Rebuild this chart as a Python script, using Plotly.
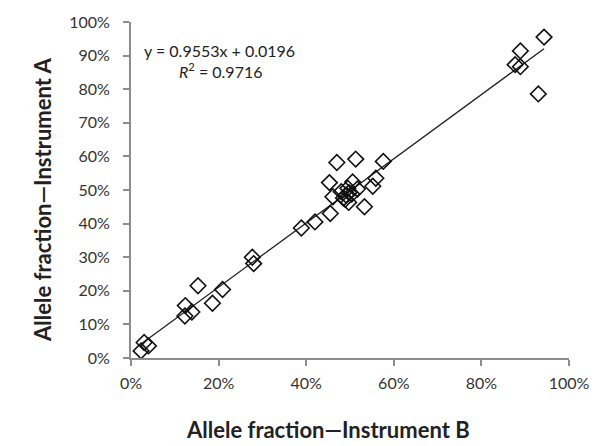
import plotly.graph_objects as go

instrument_b = [0.023, 0.030, 0.040, 0.124, 0.123, 0.139, 0.153, 0.186, 0.209, 0.277, 0.280,
                0.389, 0.420, 0.455, 0.453, 0.470, 0.513, 0.576, 0.559, 0.552, 0.533, 0.506,
                0.517, 0.461, 0.480, 0.485, 0.491, 0.497, 0.498, 0.504, 0.489, 0.495,
                0.877, 0.889, 0.889, 0.930, 0.943]
instrument_a = [0.021, 0.046, 0.036, 0.156, 0.125, 0.137, 0.215, 0.163, 0.204, 0.300, 0.281,
                0.387, 0.405, 0.430, 0.522, 0.582, 0.592, 0.585, 0.535, 0.511, 0.450, 0.524,
                0.503, 0.480, 0.495, 0.476, 0.485, 0.463, 0.492, 0.488, 0.472, 0.505,
                0.873, 0.867, 0.914, 0.786, 0.955]
slope = 0.9553
intercept = 0.0196
r_squared = 0.9716
tick_vals_x = [0, 0.2, 0.4, 0.6, 0.8, 1.0]
tick_vals_y = [0, 0.1, 0.2, 0.3, 0.4, 0.5, 0.6, 0.7, 0.8, 0.9, 1.0]

font = "Lato, 'Open Sans', sans-serif"

x0, x1 = min(instrument_b), max(instrument_b)
fig = go.Figure()
fig.add_trace(go.Scatter(x=[x0, x1], y=[slope * x0 + intercept, slope * x1 + intercept],
                         mode="lines", line=dict(color="#222222", width=1.3), hoverinfo="skip"))
fig.add_trace(go.Scatter(x=instrument_b, y=instrument_a, mode="markers",
                         marker=dict(symbol="diamond-open", size=12, color="#111111",
                                     line=dict(width=1.6, color="#111111"))))

axis_common = dict(showgrid=False, zeroline=False, showline=True, linecolor="#8c8c8c", linewidth=2,
                   ticks="outside", tickcolor="#8c8c8c", ticklen=6, tickwidth=1.5,
                   tickformat=".0%", tickfont=dict(family=font, size=16, color="#333333"))
fig.update_xaxes(range=[0, 1], tickvals=tick_vals_x, ticklabelstandoff=4, **axis_common)
fig.update_yaxes(range=[0, 1], tickvals=tick_vals_y, ticklabelstandoff=10, **axis_common)

fig.add_annotation(x=-0.239, y=0.47, xref="paper", yref="paper", text="<b>Allele fraction—Instrument A</b>",
                   textangle=-90, showarrow=False, font=dict(family=font, size=22, color="#222222"))
fig.add_annotation(x=0.45, y=-0.212, xref="paper", yref="paper", text="<b>Allele fraction—Instrument B</b>",
                   showarrow=False, yanchor="middle", font=dict(family=font, size=22, color="#222222"))
fig.add_annotation(x=0.025, y=0.915, xref="paper", yref="paper", xanchor="left", yanchor="middle",
                   text=f"y = {slope}x + {intercept}", showarrow=False,
                   font=dict(family=font, size=16, color="#222222"))
fig.add_annotation(x=0.104, y=0.855, xref="paper", yref="paper", xanchor="left", yanchor="middle",
                   text=f"<i>R</i><sup>2</sup> = {r_squared}", showarrow=False,
                   font=dict(family=font, size=16, color="#222222"))

fig.update_layout(width=602, height=446, margin=dict(l=131, r=31, t=15, b=88),
                  plot_bgcolor="white", paper_bgcolor="white", showlegend=False)
fig.write_html("out.html")
